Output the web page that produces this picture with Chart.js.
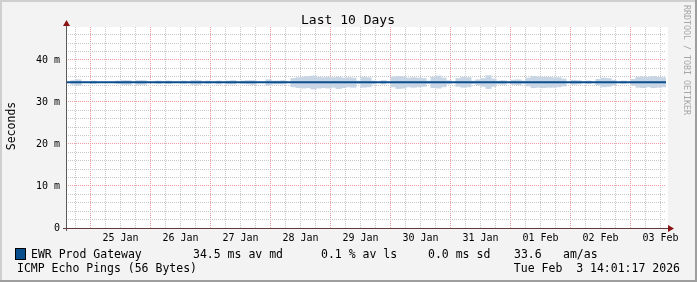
<!DOCTYPE html>
<html>
<head>
<meta charset="utf-8">
<script src="https://cdn.jsdelivr.net/npm/chart.js@4.4.1/dist/chart.umd.min.js"></script>
<style>
  html, body { margin: 0; padding: 0; background: #f3f3f3; }
  canvas { display: block; }
</style>
</head>
<body>
<canvas id="chart-smoke" width="697" height="282"></canvas>
<script>
// ================= SMOKEPING: LAST 10 DAYS =================
// hours are counted from 25 Jan 00:00
const startHour = -9.8;
const endHour = 230.2;
const binHours = 2;

const dayLabels = ['25 Jan', '26 Jan', '27 Jan', '28 Jan', '29 Jan', '30 Jan', '31 Jan', '01 Feb', '02 Feb', '03 Feb'];

// median rtt (ms)
const medianHours = [-9.8, 230.2];
const medianMs = [34.7, 34.7];

// smoke (min / max rtt per 2h bin, ms), null = no spread
const smokeLow = [
    null, 34.2, 34.0, null, null, 34.4, null, null, null, null,
    34.4, 34.2, 34.2, null, 34.2, 34.2, null, null, 34.4, null,
    34.4, null, null, 34.4, null, 34.2, 34.2, null, 34.4, null,
    34.3, null, 34.3, 34.3, null, 34.4, 34.3, 34.2, null, null,
    34.0, 34.3, 34.3, 34.3, null, 33.6, 33.4, 33.3, 33.4, 33.1,
    33.3, 33.4, 33.3, 33.5, 33.2, 33.4, 33.6, 33.5, 34.4, 33.5,
    33.6, 34.3, null, 34.3, null, 33.6, 33.2, 33.3, 33.6, 33.5,
    33.6, 33.7, 34.4, 33.4, 33.3, 33.6, 34.3, null, 33.7, 33.5,
    33.6, 34.4, 34.0, 33.7, 33.2, 33.7, 34.3, 34.2, null, 34.2,
    34.1, 34.4, 33.8, 33.4, 33.5, 33.4, 33.5, 33.5, 33.6, 33.8,
    null, 34.2, 34.3, null, 34.4, null, 34.0, 33.6, 33.7, 34.1,
    null, 34.4, null, 34.0, 33.5, 33.4, 33.6, 33.4, 33.5, 33.6
];
const smokeHigh = [
    null, 35.1, 35.3, null, null, 35.0, null, null, null, null,
    35.0, 35.1, 35.1, null, 35.1, 35.1, null, null, 35.0, null,
    35.0, null, null, 35.0, null, 35.1, 35.1, null, 35.0, null,
    35.0, null, 35.0, 35.1, null, 35.0, 35.1, 35.1, null, null,
    35.3, 35.0, 35.0, 35.1, null, 35.6, 35.8, 35.9, 36.1, 36.2,
    35.9, 35.8, 35.9, 35.8, 35.9, 35.7, 35.8, 35.7, 35.0, 35.9,
    35.8, 35.0, null, 35.1, null, 35.9, 36.1, 36.0, 35.7, 35.8,
    35.7, 35.6, 35.0, 35.9, 36.2, 35.7, 35.1, null, 35.6, 35.9,
    35.8, 35.0, 35.3, 35.6, 36.3, 35.5, 35.0, 35.1, null, 35.2,
    35.3, 35.0, 35.7, 36.1, 36.0, 35.9, 35.9, 35.8, 35.8, 35.5,
    null, 35.2, 35.1, null, 35.0, null, 35.4, 35.7, 35.6, 35.2,
    null, 35.0, null, 35.4, 35.9, 36.0, 35.9, 36.1, 35.9, 35.8
];

const legendRow = [
    { text: 'EWR Prod Gateway', x: 31 },
    { text: '34.5 ms av md', x: 193 },
    { text: '0.1 % av ls', x: 321 },
    { text: '0.0 ms sd', x: 428 },
    { text: '33.6', x: 514 },
    { text: 'am/as', x: 563 }
];

const MONO = '"DejaVu Sans Mono", "Liberation Mono", monospace';
const medianColor = '#0a4e8e';
const smokeColor = '#c8d5e4';
const gridMinor = '#c9c9c9';
const gridMajor = '#f09a9a';

// smoke bars built from the bins
const smokeData = [];
smokeLow.forEach((lo, i) => {
    if (lo === null || smokeHigh[i] === null) return;
    smokeData.push({ x: startHour + binHours * i + binHours / 2, y: [lo, smokeHigh[i]] });
});
const medianData = medianHours.map((h, i) => ({ x: h, y: medianMs[i] }));

const rrdLook = {
    id: 'rrdLook',
    beforeDraw(chart) {
        const { ctx, chartArea: ca, width, height } = chart;
        ctx.save();
        ctx.fillStyle = '#f3f3f3';
        ctx.fillRect(0, 0, width, height);
        // 3d frame
        ctx.fillStyle = '#cfcfcf';
        ctx.fillRect(0, 0, width, 2);
        ctx.fillRect(0, 0, 2, height);
        ctx.fillStyle = '#9e9e9e';
        ctx.fillRect(0, height - 2, width, 2);
        ctx.fillRect(width - 2, 0, 2, height);
        // canvas of the plot
        ctx.fillStyle = '#ffffff';
        ctx.fillRect(ca.left, ca.top, ca.right - ca.left + 2, ca.bottom - ca.top);
        ctx.restore();
    },
    afterDraw(chart) {
        const { ctx, chartArea: ca } = chart;
        ctx.save();
        // axes
        ctx.fillStyle = '#5a5a5a';
        ctx.fillRect(66, ca.top - 3, 1, ca.bottom - ca.top + 6);
        ctx.fillStyle = '#603c3c';
        ctx.fillRect(63, 228, 606, 1);
        // arrows
        ctx.fillStyle = '#8b1414';
        ctx.beginPath();
        ctx.moveTo(66.5, 20); ctx.lineTo(70, 26); ctx.lineTo(63, 26); ctx.closePath(); ctx.fill();
        ctx.beginPath();
        ctx.moveTo(674, 228.5); ctx.lineTo(668, 225); ctx.lineTo(668, 232); ctx.closePath(); ctx.fill();

        ctx.fillStyle = '#000';
        // title
        ctx.font = '13px ' + MONO;
        ctx.textAlign = 'center';
        ctx.textBaseline = 'alphabetic';
        ctx.fillText('Last 10 Days', 348, 24);

        // y title
        ctx.save();
        ctx.font = '11.5px ' + MONO;
        ctx.translate(15, 126);
        ctx.rotate(-Math.PI / 2);
        ctx.fillText('Seconds', 0, 0);
        ctx.restore();

        // watermark
        ctx.save();
        ctx.font = '8.3px ' + MONO;
        ctx.fillStyle = '#a6a6a6';
        ctx.textAlign = 'left';
        ctx.translate(684, 5);
        ctx.rotate(Math.PI / 2);
        ctx.fillText('RRDTOOL / TOBI OETIKER', 0, 0);
        ctx.restore();

        // legend
        ctx.fillStyle = medianColor;
        ctx.fillRect(16, 249, 9, 10);
        ctx.strokeStyle = '#000';
        ctx.lineWidth = 1;
        ctx.strokeRect(15.5, 248.5, 10, 11);
        ctx.fillStyle = '#000';
        ctx.font = '11.5px ' + MONO;
        ctx.textAlign = 'left';
        legendRow.forEach(item => ctx.fillText(item.text, item.x, 258.3));
        ctx.fillText('ICMP Echo Pings (56 Bytes)', 17, 272);
        ctx.textAlign = 'right';
        ctx.fillText('Tue Feb  3 14:01:17 2026', 680, 272);
        ctx.restore();
    }
};

const ctxSmoke = document.getElementById('chart-smoke');
new Chart(ctxSmoke.getContext('2d'), {
    type: 'bar',
    data: {
        datasets: [
            {
                type: 'line',
                label: 'median',
                data: medianData,
                borderColor: medianColor,
                borderWidth: 2,
                pointRadius: 0,
                tension: 0,
                order: 0
            },
            {
                type: 'bar',
                label: 'smoke',
                data: smokeData,
                backgroundColor: smokeColor,
                borderWidth: 0,
                barThickness: 5.4,
                grouped: false,
                order: 1
            }
        ]
    },
    options: {
        responsive: false,
        animation: false,
        devicePixelRatio: 1,
        layout: { padding: { left: 0, right: 31, top: 27, bottom: 0 } },
        plugins: {
            legend: { display: false },
            tooltip: { enabled: false },
            title: { display: false }
        },
        scales: {
            x: {
                type: 'linear',
                min: startHour,
                max: endHour,
                offset: false,
                afterBuildTicks: (scale) => {
                    const t = [];
                    for (let h = -6; h <= 228; h += 6) t.push({ value: h });
                    scale.ticks = t;
                },
                afterFit: (scale) => {
                    scale.height = 54;
                    scale.paddingLeft = 0;
                    scale.paddingRight = 0;
                },
                ticks: {
                    autoSkip: false,
                    maxRotation: 0,
                    padding: 4,
                    color: '#000',
                    font: { family: MONO, size: 10 },
                    callback: (v) => {
                        const r = ((v % 24) + 24) % 24;
                        return r === 12 ? dayLabels[(v - 12) / 24] : '';
                    }
                },
                grid: {
                    offset: false,
                    drawTicks: false,
                    lineWidth: 1,
                    color: (c) => (c.tick && c.tick.value % 24 === 0) ? gridMajor : gridMinor
                },
                border: { display: false, dash: [1, 1] }
            },
            y: {
                type: 'linear',
                min: 0,
                max: 47.857,
                afterBuildTicks: (scale) => {
                    const t = [];
                    for (let v = 0; v <= 46; v += 2) t.push({ value: v });
                    scale.ticks = t;
                },
                afterFit: (scale) => {
                    scale.width = 66;
                    scale.paddingTop = 0;
                    scale.paddingBottom = 0;
                },
                ticks: {
                    autoSkip: false,
                    padding: 6,
                    color: '#000',
                    font: { family: MONO, size: 10 },
                    callback: (v) => v % 10 === 0 ? (v === 0 ? '0' : v + ' m') : ''
                },
                grid: {
                    drawTicks: false,
                    lineWidth: 1,
                    color: (c) => (c.tick && c.tick.value % 10 === 0) ? gridMajor : gridMinor
                },
                border: { display: false, dash: [1, 1] }
            }
        }
    },
    plugins: [rrdLook]
});
</script>
</body>
</html>
